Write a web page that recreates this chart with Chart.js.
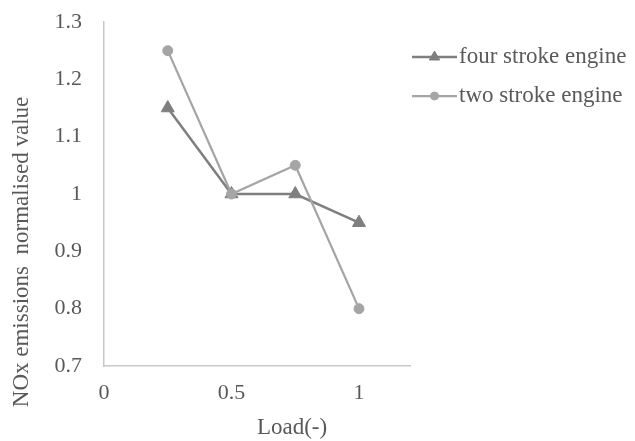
<!DOCTYPE html>
<html>
<head>
<meta charset="utf-8">
<script src="https://cdn.jsdelivr.net/npm/chart.js@4.4.0/dist/chart.umd.min.js"></script>
<style>
    html, body { margin: 0; padding: 0; background: #fff; }
</style>
</head>
<body>
<canvas id="myChart" width="635" height="441"></canvas>
<script>
const loads = [0.25, 0.5, 0.75, 1];
const fourStroke = [1.15, 1, 1, 0.95];
const twoStroke = [1.25, 1, 1.05, 0.8];
const xTicks = [0, 0.5, 1];
const yTicks = [0.7, 0.8, 0.9, 1, 1.1, 1.2, 1.3];
const seriesNames = ['four stroke engine', 'two stroke engine'];
const xTitle = 'Load(-)';
const yTitle = 'NOx emissions  normalised value';

const textColor = '#595959';
const family = '"Liberation Serif", "Times New Roman", serif';
const font = { family: family, size: 22 };

const toPoints = (ys) => loads.map((x, i) => ({ x: x, y: ys[i] }));

// axis titles + legend (line with marker), drawn after the chart
const extras = {
    id: 'extras',
    afterDraw(chart) {
        const ctx = chart.ctx;
        ctx.save();
        ctx.font = '23px ' + family;
        ctx.fillStyle = textColor;
        ctx.textAlign = 'center';
        ctx.textBaseline = 'middle';
        ctx.fillText(xTitle, 292, 428);
        ctx.save();
        ctx.translate(22, 252);
        ctx.rotate(-Math.PI / 2);
        ctx.fillText(yTitle, 0, 0);
        ctx.restore();

        chart.data.datasets.forEach((ds, i) => {
            const y = 57 + i * 39;
            ctx.strokeStyle = ds.borderColor;
            ctx.fillStyle = ds.backgroundColor;
            ctx.lineWidth = ds.borderWidth;
            ctx.beginPath();
            ctx.moveTo(412, y);
            ctx.lineTo(457, y);
            ctx.stroke();
            ctx.lineWidth = 1;
            Chart.helpers.drawPoint(ctx, {
                pointStyle: ds.pointStyle,
                radius: ds.pointStyle === 'triangle' ? 6 : 4,
                rotation: 0,
                borderWidth: 1
            }, 434.5, y);
            ctx.fillStyle = textColor;
            ctx.textAlign = 'left';
            ctx.fillText(ds.label, 459, y);
        });
        ctx.restore();
    }
};

const data = {
    datasets: [{
        label: seriesNames[0],
        data: toPoints(fourStroke),
        borderColor: '#7f7f7f',
        backgroundColor: '#7f7f7f',
        borderWidth: 2.5,
        pointStyle: 'triangle',
        pointRadius: 7.5,
        pointBorderWidth: 1,
        order: 2
    }, {
        label: seriesNames[1],
        data: toPoints(twoStroke),
        borderColor: '#a5a5a5',
        backgroundColor: '#a5a5a5',
        borderWidth: 2.25,
        pointStyle: 'circle',
        pointRadius: 5,
        pointBorderWidth: 1,
        order: 1
    }]
};

const config = {
    type: 'line',
    data: data,
    options: {
        responsive: false,
        animation: false,
        layout: { padding: { top: 22, right: 225, bottom: 0, left: 0 } },
        plugins: {
            legend: { display: false },
            tooltip: { enabled: false }
        },
        scales: {
            x: {
                type: 'linear',
                min: 0,
                max: 1.2,
                afterBuildTicks: (s) => { s.ticks = xTicks.map(v => ({ value: v })); },
                afterFit: (s) => { s.height = 75; },
                grid: { drawOnChartArea: false, drawTicks: false },
                border: { color: '#c8c8c8', width: 1.5 },
                ticks: {
                    color: textColor,
                    font: font,
                    padding: 14,
                    maxRotation: 0,
                    callback: (v) => String(+v.toFixed(2))
                }
            },
            y: {
                min: 0.7,
                max: 1.3,
                afterBuildTicks: (s) => { s.ticks = yTicks.map(v => ({ value: v })); },
                afterFit: (s) => {
                    s.width = 104;
                    s.paddingTop = 0;
                    s.paddingBottom = 0;
                },
                grid: { drawOnChartArea: false, drawTicks: false },
                border: { color: '#c8c8c8', width: 1.5 },
                ticks: {
                    color: textColor,
                    font: font,
                    padding: 22,
                    callback: (v) => String(+v.toFixed(2))
                }
            }
        }
    },
    plugins: [extras]
};

window.onload = function () {
    const ctx = document.getElementById('myChart').getContext('2d');
    new Chart(ctx, config);
};
</script>
</body>
</html>
